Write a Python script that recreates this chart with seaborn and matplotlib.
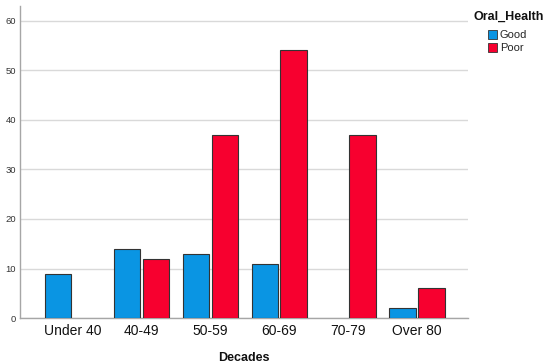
import pandas as pd
import seaborn as sns
import matplotlib.pyplot as plt
from matplotlib.patches import Patch

# chart data
decades = ['Under 40', '40-49', '50-59', '60-69', '70-79', 'Over 80']
good = [9, 14, 13, 11, 0, 2]
poor = [0, 12, 37, 54, 37, 6]
health_levels = ['Good', 'Poor']
colors = {'Good': '#0a95e3', 'Poor': '#f7002f'}

df = pd.DataFrame({
    'Decades': decades * 2,
    'Oral_Health': ['Good'] * len(decades) + ['Poor'] * len(decades),
    'Count': good + poor,
})
# empty bars are not drawn
df_plot = df[df['Count'] > 0]

sns.set_style('white')
plt.rcParams['font.family'] = ['Liberation Sans', 'DejaVu Sans']
fig = plt.figure(figsize=(5.5, 3.64), dpi=100)
ax = fig.add_axes([0.0364, 0.126, 0.8145, 0.858])

sns.barplot(data=df_plot, x='Decades', y='Count', hue='Oral_Health',
            order=decades, hue_order=health_levels, palette=colors,
            saturation=1, width=0.84, gap=0.09, edgecolor='#333333',
            linewidth=0.8, legend=False, ax=ax, zorder=3)

ax.set_xlim(-0.76, 5.74)
ax.set_ylim(0, 63)
ax.set_yticks([0, 10, 20, 30, 40, 50, 60])
ax.yaxis.grid(True, color='#d9d9d9', linewidth=1, zorder=0)
ax.set_axisbelow(True)
for side in ['top', 'right']:
    ax.spines[side].set_visible(False)
for side in ['left', 'bottom']:
    ax.spines[side].set_color('#a6a6a6')
    ax.spines[side].set_linewidth(1)
ax.tick_params(axis='y', labelsize=6.8, length=0, pad=3, labelcolor='#333333')
ax.tick_params(axis='x', labelsize=10, length=0, pad=4, labelcolor='#111111')
ax.set_ylabel('')
ax.set_xlabel('Decades', fontsize=9, fontweight='bold', labelpad=10, color='#111111')

fig.text(474 / 550, 1 - 17 / 364, 'Oral_Health', fontsize=9, fontweight='bold',
         ha='left', va='center', color='#111111')
handles = [Patch(facecolor=colors[h], edgecolor='#333333', linewidth=0.6) for h in health_levels]
fig.legend(handles, health_levels, loc='upper left',
           bbox_to_anchor=(488 / 550, 1 - 30 / 364), frameon=False, fontsize=8,
           handlelength=0.85, handleheight=0.85, handletextpad=0.2,
           labelspacing=0.25, borderaxespad=0, borderpad=0)

fig.savefig('out.png', dpi=100)
